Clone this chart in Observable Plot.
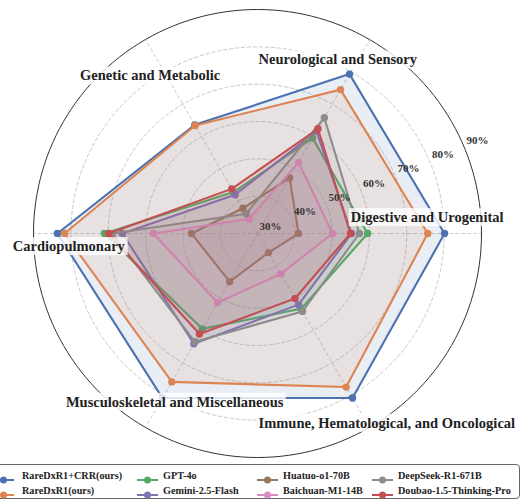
<!DOCTYPE html>
<html>
<head>
<meta charset="utf-8">
<script src="https://cdn.jsdelivr.net/npm/d3@7"></script>
<script src="https://cdn.jsdelivr.net/npm/@observablehq/plot@0.6"></script>
<style>
  html, body { margin: 0; padding: 0; background: #fff; overflow: hidden; }
  #wrap { position: relative; width: 528px; height: 501px; font-family: "Liberation Serif", "Times New Roman", serif; }
  #legend { position: absolute; left: -6px; top: 464px; width: 526px; height: 35px; box-sizing: border-box;
            border: 1px solid #666; border-radius: 4px; background: #fff; }
  .item { position: absolute; font-weight: bold; font-size: 10.2px; color: #222; white-space: nowrap; line-height: 12px; }
  .mk { position: absolute; }
</style>
</head>
<body>
<div id="wrap"></div>
<script>
const categories = [
  "Digestive and Urogenital",
  "Neurological and Sensory",
  "Genetic and Metabolic",
  "Cardiopulmonary",
  "Musculoskeletal and Miscellaneous",
  "Immune, Hematological, and Oncological"
];
const models = [
  "RareDxR1+CRR(ours)", "RareDxR1(ours)", "GPT-4o", "Gemini-2.5-Flash",
  "Huatuo-o1-70B", "Baichuan-M1-14B", "DeepSeek-R1-671B", "Doubao-1.5-Thinking-Pro"
];
const colors = ["#4c72b0", "#dd8452", "#55a868", "#8172b3", "#937860", "#da8bc3", "#8c8c8c", "#c44e52"];

// values per model, in category order (percent)
const rareDxR1CRR = [80.1, 79.3, 63.6, 83.6, 80.9, 80.9];
const rareDxR1    = [75.6, 74.5, 63.4, 81.7, 75.9, 77.5];
const gpt4o       = [59.5, 59.5, 42.8, 71.0, 59.5, 53.3];
const gemini      = [55.2, 61.6, 42.0, 66.2, 64.1, 52.0];
const huatuo      = [41.0, 47.2, 37.8, 47.7, 44.9, 35.9];
const baichuan    = [50.1, 52.0, 34.5, 57.9, 51.4, 42.5];
const deepseek    = [57.3, 65.8, 36.1, 68.9, 63.5, 54.1];
const doubao      = [54.9, 62.4, 43.8, 69.9, 61.1, 50.1];
const series = [rareDxR1CRR, rareDxR1, gpt4o, gemini, huatuo, baichuan, deepseek, doubao];

const radialTicks = [30, 40, 50, 60, 70, 80, 90];
const tickLabels = ["30%", "40%", "50%", "60%", "70%", "80%", "90%"];

const rMin = 30, rMax = 90;
const ang = i => i * 2 * Math.PI / categories.length;
const px = (v, a) => (v - rMin) * Math.cos(a);
const py = (v, a) => (v - rMin) * Math.sin(a);

const rows = [];
models.forEach((m, mi) => series[mi].forEach((v, ci) => rows.push({model: m, mi, category: categories[ci], ci, value: v})));

// grid helpers
const ringPts = (v) => d3.range(0, 361, 2).map(deg => ({v, a: deg * Math.PI / 180}));
const rings = [40, 50, 60, 70, 80].flatMap(ringPts);
const outer = ringPts(rMax);

const font = "Liberation Serif, Times New Roman, serif";
const marks = [];
marks.push(Plot.line(rings, {x: d => px(d.v, d.a), y: d => py(d.v, d.a), z: "v", stroke: "#c4c4c4", strokeWidth: 0.9, strokeDasharray: "3.5,2.5"}));
marks.push(Plot.link(categories, {x1: 0, y1: 0, x2: (d, i) => px(rMax, ang(i)), y2: (d, i) => py(rMax, ang(i)), stroke: "#c4c4c4", strokeWidth: 0.9, strokeDasharray: "3.5,2.5"}));
marks.push(Plot.line(outer, {x: d => px(d.v, d.a), y: d => py(d.v, d.a), stroke: "#333", strokeWidth: 1}));

models.forEach((m, mi) => {
  const data = rows.filter(r => r.mi === mi);
  marks.push(Plot.line(data, {x: d => px(d.value, ang(d.ci)), y: d => py(d.value, ang(d.ci)), curve: "linear-closed",
    stroke: colors[mi], strokeWidth: 2.1, fill: colors[mi], fillOpacity: 0.12, strokeLinejoin: "round"}));
  marks.push(Plot.dot(data, {x: d => px(d.value, ang(d.ci)), y: d => py(d.value, ang(d.ci)), r: 3.7, fill: colors[mi], stroke: "none"}));
});

// radial tick labels at 22.5°
const la = 22.5 * Math.PI / 180;
marks.push(Plot.text(radialTicks, {x: v => px(v, la), y: v => py(v, la), text: (d, i) => tickLabels[i],
  textAnchor: "start", lineAnchor: "bottom", dx: 2, dy: -4, fontSize: 11, fontWeight: "bold", fill: "#333", fontFamily: font}));

// category labels
const labelOffsets = [[-17, -16], [-13, -12], [-14, 4], [-2, 13], [10.5, 7], [36, 28]];
categories.forEach((c, i) => {
  marks.push(Plot.text([c], {x: () => px(80, ang(i)), y: () => py(80, ang(i)), text: d => d,
    dx: labelOffsets[i][0], dy: labelOffsets[i][1], fontSize: 14.5, fontWeight: "bold", fill: "#222",
    fontFamily: font, className: "catlabel"}));
});

const chart = Plot.plot({
  width: 528, height: 462,
  margin: 0,
  x: {domain: [-(rMax - rMin), rMax - rMin], range: [33, 481], axis: null},
  y: {domain: [-(rMax - rMin), rMax - rMin], range: [457, 9], axis: null},
  style: {background: "transparent", fontFamily: font, overflow: "visible"},
  marks
});
const wrap = document.getElementById("wrap");
wrap.appendChild(chart);

// white boxes behind category labels
chart.querySelectorAll("g.catlabel text").forEach(t => {
  const b = t.getBBox();
  const rect = document.createElementNS("http://www.w3.org/2000/svg", "rect");
  rect.setAttribute("x", b.x - 2); rect.setAttribute("y", b.y - 1);
  rect.setAttribute("width", b.width + 4); rect.setAttribute("height", b.height + 2);
  rect.setAttribute("fill", "white"); rect.setAttribute("fill-opacity", 0.8);
  const tr = t.getAttribute("transform");
  if (tr) rect.setAttribute("transform", tr);
  t.parentNode.insertBefore(rect, t);
});

// legend (HTML)
const legend = document.createElement("div");
legend.id = "legend";
wrap.appendChild(legend);
const colLine = [-7, 137, 257, 372];
const colText = [22, 163, 283, 398];
const rowY = [476, 491];
models.forEach((m, i) => {
  const col = Math.floor(i / 2), row = i % 2;
  const mk = document.createElement("div");
  mk.className = "mk";
  mk.style.left = colLine[col] + "px";
  mk.style.top = (rowY[row] - 5) + "px";
  mk.innerHTML = `<svg width="21" height="10"><line x1="0" y1="5" x2="21" y2="5" stroke="${colors[i]}" stroke-width="2"/><circle cx="10.5" cy="5" r="3.5" fill="${colors[i]}"/></svg>`;
  wrap.appendChild(mk);
  const it = document.createElement("div");
  it.className = "item";
  it.textContent = m;
  it.style.left = colText[col] + "px";
  it.style.top = (rowY[row] - 6) + "px";
  wrap.appendChild(it);
});
</script>
</body>
</html>
